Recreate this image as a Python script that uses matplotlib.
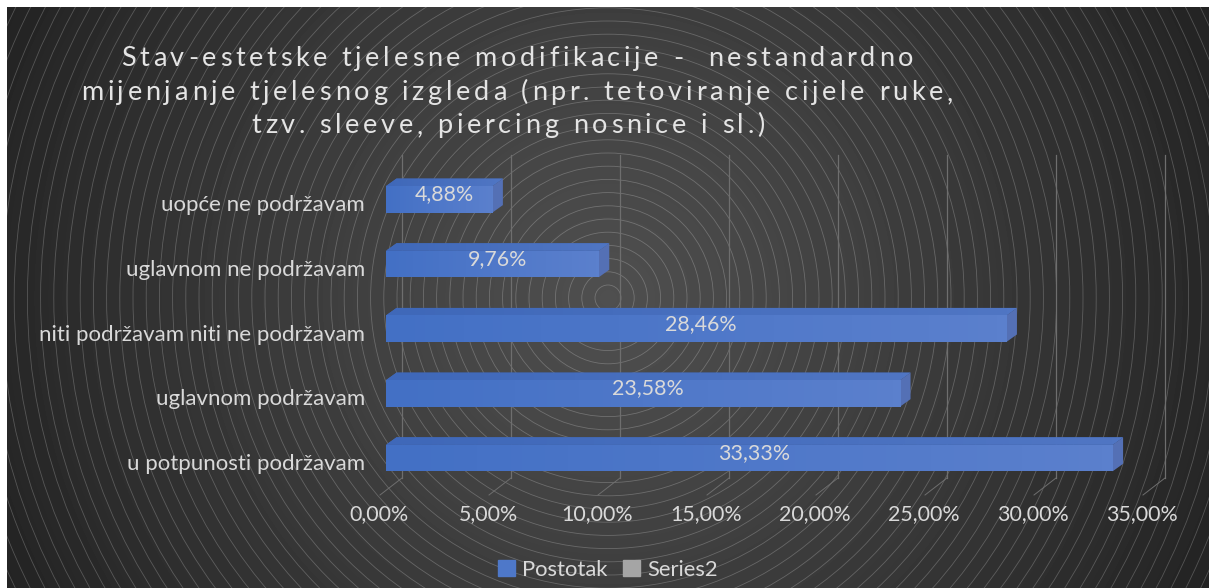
import numpy as np
import matplotlib
matplotlib.use("Agg")
import matplotlib.pyplot as plt
from matplotlib.patches import Circle, Patch, Polygon, Rectangle
from matplotlib.text import Text
from matplotlib.transforms import IdentityTransform, ScaledTranslation

# data (bottom row first)
categories = ["u potpunosti podržavam", "uglavnom podržavam",
              "niti podržavam niti ne podržavam", "uglavnom ne podržavam",
              "uopće ne podržavam"]
postotak = [33.33, 23.58, 28.46, 9.76, 4.88]
series2 = []
x_ticks = [0, 5, 10, 15, 20, 25, 30, 35]
title_lines = ["Stav-estetske tjelesne modifikacije -  nestandardno",
               "mijenjanje tjelesnog izgleda (npr. tetoviranje cijele ruke,",
               "tzv. sleeve, piercing nosnice i sl.)"]

W, H = 1209, 588
TEXT = "#d9d9d9"
BLUE_L, BLUE_R = np.array([0x43, 0x70, 0xc5]) / 255, np.array([0x5b, 0x80, 0xcd]) / 255
TOP_L, TOP_R = np.array([0x3f, 0x68, 0xb9]) / 255, np.array([0x50, 0x76, 0xc4]) / 255
GRID = "#6e6e6e"
plt.rcParams['font.family'] = ['Lato', 'DejaVu Sans']

fig = plt.figure(figsize=(W / 100, H / 100), dpi=100, facecolor="white")


def px(dx, dy):
    # shift in screen pixels, dy positive = up
    return ScaledTranslation(dx / 100, dy / 100, fig.dpi_scale_trans)


class TrackedText(Text):
    # one string, drawn with extra space between the letters
    tracking = 0

    def draw(self, renderer):
        s = self.get_text()
        fp = self.get_fontproperties()
        widths = [renderer.get_text_width_height_descent(s[:i], fp, False)[0] if i else 0
                  for i in range(len(s) + 1)]
        x, y = self.get_transform().transform(self.get_position())
        x0 = x - (widths[-1] + self.tracking * (len(s) - 1)) / 2
        for i, ch in enumerate(s):
            if ch == " ":
                continue
            t = Text(x0 + widths[i] + i * self.tracking, y, ch, color=self.get_color(),
                     fontproperties=fp, va="baseline", ha="left", transform=IdentityTransform())
            t.set_figure(self.get_figure())
            t.draw(renderer)


# background, radial gradient with thin rings
bg = fig.add_axes([0, 0, 1, 1])
bg.set_axis_off()
cx, cy = 608, 298
yy, xx = np.mgrid[7:H, 7:W]
dist = np.hypot(xx - cx, yy - cy) / np.hypot(cx, cy)
shade = 0.31 - 0.175 * np.clip(dist, 0, 1) ** 1.1
frame = Rectangle((7, 7), W - 7, H - 7, transform=bg.transData, fc="none", ec="none")
bg.imshow(shade, cmap="gray", vmin=0, vmax=1, extent=(7, W, H, 7), aspect="auto")
bg.add_patch(frame)
for r in np.arange(13, 800, 13.2):
    ring = Circle((cx, cy), r, fc="none", ec="white", lw=0.6, alpha=0.22)
    bg.add_patch(ring)
    ring.set_clip_path(frame)
bg.set_xlim(0, W)
bg.set_ylim(H, 0)

# chart area, front plane of the bars
left, right, top, bottom = 386, 1149, 167, 490.4
ax = fig.add_axes([left / W, 1 - bottom / H, (right - left) / W, (bottom - top) / H])
ax.patch.set_visible(False)
for s in ax.spines.values():
    s.set_visible(False)
ax.set_xlim(0, 35)
ax.set_ylim(-0.5, 4.5)

# gridlines on the back wall with the slanted foot on the floor
grid_tr = ax.get_xaxis_transform()
for t in x_ticks:
    ax.plot([t, t], [(bottom - 478) / (bottom - top), (bottom - 155) / (bottom - top)],
            transform=grid_tr + px(16, 0), color=GRID, lw=0.9, zorder=1, clip_on=False)
    foot_x = ax.transData.transform((t, 0))[0]
    fig.add_artist(plt.Line2D([(foot_x + 16) / W, (foot_x - 6) / W],
                              [1 - 478 / H, 1 - 495 / H], color=GRID, lw=0.7))

# bars
y_pos = np.arange(len(categories))
bar_h = 0.41
dx, dy = 10.5 / (right - left) * 35, 7.5 / (bottom - top) * 5
bars = ax.barh(y_pos, postotak, height=bar_h, color="#4e78c9", zorder=3)
ax.barh(y_pos[:0], series2, height=bar_h, color="#a5a5a5", zorder=3)
ramp = np.linspace(0, 1, 64)[None, :, None]
front_colors = BLUE_L * (1 - ramp) + BLUE_R * ramp
top_colors = TOP_L * (1 - ramp) + TOP_R * ramp
for y, v, b in zip(y_pos, postotak, bars):
    y_up = y + bar_h / 2
    im = ax.imshow(front_colors, extent=(0, v, y - bar_h / 2, y_up), aspect="auto", zorder=3.1)
    im.set_clip_path(b)
    roof = Polygon([(0, y_up), (dx, y_up + dy), (v + dx, y_up + dy), (v, y_up)],
                   fc="#4169bb", ec="none", zorder=3)
    ax.add_patch(roof)
    im = ax.imshow(top_colors, extent=(0, v + dx, y_up, y_up + dy), aspect="auto", zorder=3.1)
    im.set_clip_path(roof)
    ax.add_patch(Polygon([(v, y - bar_h / 2), (v + dx, y - bar_h / 2 + dy), (v + dx, y_up + dy),
                          (v, y_up)], fc="#5470b5", ec="none", zorder=3))
    label = f"{v:.2f}%".replace(".", ",")
    ax.text(v / 2, y, label, color=TEXT, fontsize=15.4, ha="center", va="center", zorder=5,
            transform=ax.transData + px(5, 5))

ax.set_xlim(0, 35)
ax.set_ylim(-0.5, 4.5)
ax.set_xticks(x_ticks)
ax.set_xticklabels([f"{t:.2f}%".replace(".", ",") for t in x_ticks], color=TEXT, fontsize=15.4)
ax.set_yticks(y_pos)
ax.set_yticklabels(categories, color=TEXT, fontsize=16)
ax.tick_params(length=0)
ax.tick_params(axis="x", pad=0)
ax.tick_params(axis="y", pad=15)
for lab in ax.get_xticklabels():
    lab.set_transform(lab.get_transform() + px(-7, -14))
for lab in ax.get_yticklabels():
    lab.set_transform(lab.get_transform() + px(0, -4))

# title
for line, x, y in zip(title_lines, [517, 517, 508], [66, 100, 133]):
    t = TrackedText(x / W, 1 - y / H, line, color="#e4e4e4", fontsize=19.5,
                    transform=fig.transFigure)
    t.tracking = 3.75
    fig.add_artist(t)

handles = [Patch(color="#4e78c9"), Patch(color="#a5a5a5")]
fig.legend(handles=handles, labels=["Postotak", "Series2"], ncol=2,
           loc="center", bbox_to_anchor=(608 / W, 1 - 570 / H), frameon=False, fontsize=15.8,
           labelcolor=TEXT, handlelength=0.75, handleheight=0.75, handletextpad=0.35,
           columnspacing=0.7, borderpad=0)

fig.savefig("out.png", dpi=100, facecolor="white")
